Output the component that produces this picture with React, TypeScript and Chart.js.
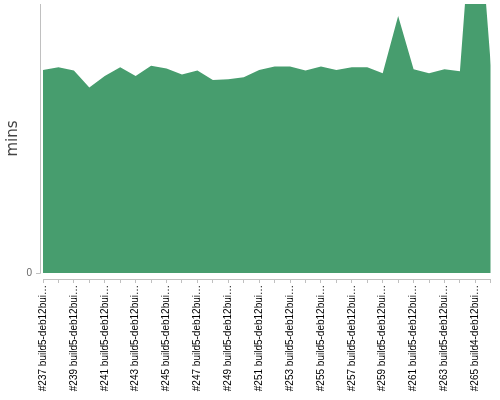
import React, { useEffect, useRef } from "react";
import { Chart, registerables } from "chart.js";

Chart.register(...registerables);

const buildLabels = [
  "#237 build5-deb12bui…", "#238 build5-deb12bui…", "#239 build5-deb12bui…", "#240 build5-deb12bui…",
  "#241 build5-deb12bui…", "#242 build5-deb12bui…", "#243 build5-deb12bui…", "#244 build5-deb12bui…",
  "#245 build5-deb12bui…", "#246 build5-deb12bui…", "#247 build5-deb12bui…", "#248 build5-deb12bui…",
  "#249 build5-deb12bui…", "#250 build5-deb12bui…", "#251 build5-deb12bui…", "#252 build5-deb12bui…",
  "#253 build5-deb12bui…", "#254 build5-deb12bui…", "#255 build5-deb12bui…", "#256 build5-deb12bui…",
  "#257 build5-deb12bui…", "#258 build5-deb12bui…", "#259 build5-deb12bui…", "#260 build5-deb12bui…",
  "#261 build5-deb12bui…", "#262 build5-deb12bui…", "#263 build5-deb12bui…", "#264 build5-deb12bui…",
  "#265 build4-deb12bui…", "#266 build5-deb12bui…",
];

const durationMins = [
  30.2, 30.6, 30.1, 27.6, 29.3, 30.6, 29.3, 30.8, 30.4, 29.5,
  30.1, 28.7, 28.8, 29.1, 30.2, 30.7, 30.7, 30.1, 30.7, 30.2,
  30.6, 30.6, 29.7, 38.2, 30.3, 29.7, 30.3, 30.0, 60.7, 30.9,
];

const yTickValues = [0];
const yDomainMin = -0.89;
const yDomainMax = 40;
const yTitle = "mins";

const AXIS_COLOR = "#c0c0c0";
const FILL_COLOR = "#479d6e";

const axisPlugin = {
  id: "offsetYAxis",
  afterDraw(chart: any) {
    const { ctx, chartArea, scales } = chart;
    const y0 = scales.y.getPixelForValue(0);
    const x = chartArea.left - 3;
    ctx.save();
    ctx.strokeStyle = AXIS_COLOR;
    ctx.lineWidth = 1;
    ctx.beginPath();
    ctx.moveTo(x + 0.5, chartArea.top);
    ctx.lineTo(x + 0.5, y0 + 0.5);
    ctx.moveTo(x - 4, y0 + 0.5);
    ctx.lineTo(x + 0.5, y0 + 0.5);
    ctx.stroke();
    // axis title, centred on the axis line span
    ctx.translate(13, (chartArea.top + y0) / 2);
    ctx.rotate(-Math.PI / 2);
    ctx.fillStyle = "#444";
    ctx.font = "15px 'DejaVu Sans', sans-serif";
    ctx.textAlign = "center";
    ctx.textBaseline = "middle";
    ctx.fillText(yTitle, 0, 0);
    ctx.restore();
  },
};

export default function App() {
  const canvasRef = useRef<HTMLCanvasElement | null>(null);

  useEffect(() => {
    const canvas = canvasRef.current;
    if (!canvas) return;
    const chart = new Chart(canvas, {
      type: "line",
      data: {
        labels: buildLabels,
        datasets: [
          {
            data: durationMins,
            fill: "origin",
            backgroundColor: FILL_COLOR,
            borderColor: FILL_COLOR,
            borderWidth: 0,
            pointRadius: 0,
            tension: 0,
          },
        ],
      },
      options: {
        animation: false,
        responsive: true,
        maintainAspectRatio: false,
        layout: { padding: { top: 4, right: 9.2, bottom: 0, left: 0 } },
        plugins: { legend: { display: false }, tooltip: { enabled: false } },
        scales: {
          x: {
            type: "category",
            offset: false,
            afterFit: (scale: any) => {
              scale.height = 121;
              scale.paddingLeft = 0;
              scale.paddingRight = 0;
            },
            grid: {
              display: true,
              drawOnChartArea: false,
              tickLength: 4,
              color: AXIS_COLOR,
            },
            border: { display: true, color: AXIS_COLOR },
            ticks: {
              autoSkip: false,
              maxRotation: 90,
              minRotation: 90,
              padding: 2,
              color: "#000",
              font: { family: "'Liberation Sans', Arial, sans-serif", size: 10 },
              callback: (_v: any, i: number) => (i % 2 === 0 ? buildLabels[i] : ""),
            },
          },
          y: {
            min: yDomainMin,
            max: yDomainMax,
            afterFit: (scale: any) => {
              scale.width = 43;
              scale.paddingTop = 0;
              scale.paddingBottom = 0;
            },
            afterBuildTicks: (scale: any) => {
              scale.ticks = yTickValues.map((v) => ({ value: v }));
            },
            grid: { display: true, drawOnChartArea: false, color: "transparent", tickLength: 8 },
            border: { display: false },
            ticks: {
              padding: 3,
              color: "#666",
              font: { family: "'Liberation Sans', Arial, sans-serif", size: 10 },
            },
            title: { display: false },
          },
        },
      },
      plugins: [axisPlugin],
    });
    return () => chart.destroy();
  }, []);

  return (
    <div style={{ position: "absolute", left: 0, top: 0, width: 500, height: 400 }}>
      <canvas ref={canvasRef} />
    </div>
  );
}
